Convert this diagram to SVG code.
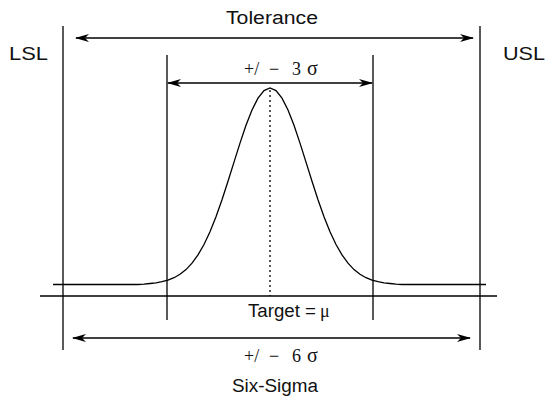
<svg xmlns="http://www.w3.org/2000/svg" width="547" height="396" viewBox="0 0 547 396">
<defs>
<marker id="ah" viewBox="0 0 14 8" markerWidth="14" markerHeight="8" refX="13" refY="4" orient="auto-start-reverse" markerUnits="userSpaceOnUse">
<path d="M0,0 L14,4 L0,8 L4,4 z" fill="#000"/>
</marker>
<style>
.ln{stroke:#000;stroke-width:1.3;fill:none}
.ar{stroke:#000;stroke-width:1.3;fill:none;marker-start:url(#ah);marker-end:url(#ah)}
.sans{font-family:"Liberation Sans",Arial,sans-serif;font-size:18px;fill:#111}
.serif{font-family:"Liberation Serif","Times New Roman",serif;font-size:18px;fill:#111}
</style>
</defs>
<rect width="547" height="396" fill="#fff"/>
<g id="limits">
<line class="ln" x1="63" y1="26" x2="63" y2="350"/>
<line class="ln" x1="480" y1="26" x2="480" y2="350"/>
<line class="ln" x1="167" y1="55" x2="167" y2="320"/>
<line class="ln" x1="373" y1="55" x2="373" y2="320"/>
</g>
<g id="axis">
<line class="ln" x1="40" y1="296" x2="497" y2="296"/>
<line class="ln" x1="270" y1="90" x2="270" y2="296" stroke-dasharray="2,3"/>
</g>
<g id="curve">
<path class="ln" d="M53,284.5 L138,284.5 L144,284.2 L150,283.5 L156,282.8 L162,281.7 L168,280.1 L174,277.7 L180,274.3 L186,269.6 L192,263.2 L198,254.9 L204,244.5 L210,231.7 L216,216.8 L222,199.8 L228,181.3 L234,162.1 L240,143.1 L246,125.3 L252,109.9 L258,98.1 L264,90.6 L270,88 L276,90.6 L282,98.1 L288,109.9 L294,125.3 L300,143.1 L306,162.1 L312,181.3 L318,199.8 L324,216.8 L330,231.7 L336,244.5 L342,254.9 L348,263.2 L354,269.6 L360,274.3 L366,277.7 L372,280.1 L378,281.7 L384,282.8 L390,283.5 L396,284.2 L402,284.5 L486,284.5"/>
</g>
<g id="connectors">
<line class="ar" x1="76" y1="38" x2="473" y2="38"/>
<line class="ar" x1="168" y1="83" x2="372" y2="83"/>
<line class="ar" x1="73" y1="338" x2="470" y2="338"/>
</g>
<g id="labels">
<text class="sans" x="226" y="24" textLength="92" lengthAdjust="spacingAndGlyphs">Tolerance</text>
<text class="sans" x="9" y="60" textLength="39" lengthAdjust="spacingAndGlyphs">LSL</text>
<text class="sans" x="503" y="60" textLength="42" lengthAdjust="spacingAndGlyphs">USL</text>
<text class="serif" y="75"><tspan x="244">+/</tspan><tspan x="269">−</tspan><tspan x="292">3</tspan><tspan x="307" font-size="20">σ</tspan></text>
<text y="317"><tspan class="sans" x="248" textLength="68" lengthAdjust="spacingAndGlyphs">Target =</tspan><tspan class="serif" x="320">μ</tspan></text>
<text class="serif" y="362"><tspan x="244">+/</tspan><tspan x="269">−</tspan><tspan x="292">6</tspan><tspan x="307" font-size="20">σ</tspan></text>
<text class="sans" x="232" y="392" textLength="86" lengthAdjust="spacingAndGlyphs">Six-Sigma</text>
</g>
</svg>
